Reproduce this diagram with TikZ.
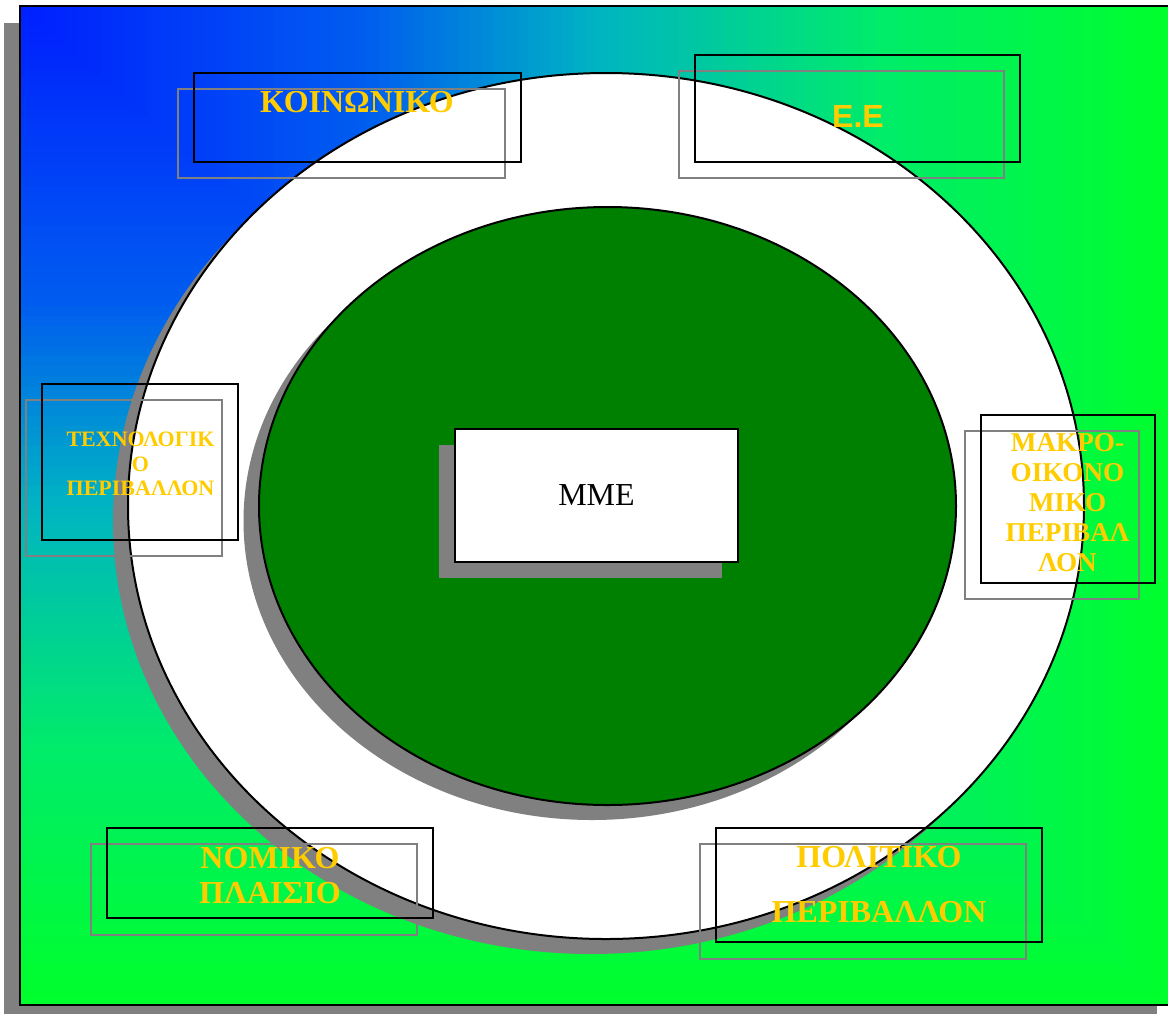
\documentclass[tikz,border=0pt]{standalone}
\usepackage{fontspec}
\setmainfont{Liberation Serif}
\newfontfamily\arialfont{Liberation Sans}
\usetikzlibrary{positioning}
\definecolor{bgblue}{RGB}{0,30,255}
\definecolor{bgmid}{RGB}{0,92,240}
\definecolor{bgteal}{RGB}{0,178,196}
\definecolor{bglime}{RGB}{0,236,105}
\definecolor{bggreen}{RGB}{0,255,45}
\definecolor{ringgreen}{RGB}{0,128,0}
\definecolor{lblyellow}{RGB}{255,204,0}

\begin{document}
\begin{tikzpicture}[x=0.5pt, y=-0.5pt, line width=1pt,
  shadowfill/.style={fill=gray, draw=none},
  frontbox/.style={draw=black},
  backbox/.style={draw=gray},
  lbl/.style={text=lblyellow, font=\bfseries, align=center, inner sep=0pt}]
  \useasboundingbox (0,0) rectangle (1168,1014);
  % background frame, gradient from the top left corner
  \fill[shadowfill] (4,23) rectangle (1157,1014);
  \foreach \i in {100,99,...,1}{
    \pgfmathsetmacro\t{\i/100}
    \ifdim\t pt>0.75pt \pgfmathsetmacro\m{(\t-0.75)/0.25*100}\colorlet{band}{bggreen!\m!bglime}
    \else\ifdim\t pt>0.5pt \pgfmathsetmacro\m{(\t-0.5)/0.25*100}\colorlet{band}{bglime!\m!bgteal}
    \else\ifdim\t pt>0.3pt \pgfmathsetmacro\m{(\t-0.3)/0.2*100}\colorlet{band}{bgteal!\m!bgmid}
    \else \pgfmathsetmacro\m{\t/0.3*100}\colorlet{band}{bgmid!\m!bgblue}\fi\fi\fi
    \pgfmathsetmacro\xe{20+1155*\t}
    \pgfmathsetmacro\ye{6+999*\t}
    \fill[band] (20,6) rectangle (\xe,\ye);
  }
  \draw (20,6) rectangle (1175,1005);
  % outer ring
  \fill[shadowfill] (591,521) ellipse [x radius=478, y radius=433];
  \draw[fill=white] (606,506) ellipse [x radius=478, y radius=433];
  % inner ring
  \fill[shadowfill] (592,521) ellipse [x radius=348.5, y radius=299];
  \draw[fill=ringgreen] (607.5,506) ellipse [x radius=348.5, y radius=299];
  % centre box
  \fill[shadowfill] (439,445) rectangle (722,578);
  \node[draw, fill=white, minimum width=141.5pt, minimum height=66.5pt,
        font=\fontsize{16}{19}\selectfont] (mme) at (596.5,495.5) {ΜΜΕ};
  % label boxes
  \draw[backbox]  (178,89) rectangle (505,178);
  \draw[frontbox] (194,73) rectangle (521,162);
  \draw[backbox]  (679,71) rectangle (1004,178);
  \draw[frontbox] (695,55) rectangle (1020,162);
  \draw[backbox]  (26,400) rectangle (222,556);
  \draw[frontbox] (42,384) rectangle (238,540);
  \draw[backbox]  (965,431) rectangle (1139,599);
  \draw[frontbox] (981,415) rectangle (1155,583);
  \draw[backbox]  (91,844) rectangle (417,935);
  \draw[frontbox] (107,828) rectangle (433,918);
  \draw[backbox]  (700,844) rectangle (1026,959);
  \draw[frontbox] (716,828) rectangle (1042,942);
  % label texts
  \node[lbl, font=\bfseries\fontsize{16}{20}\selectfont] (social) at (357,102.5) {ΚΟΙΝΩΝΙΚΟ};
  \node[lbl, font=\arialfont\bfseries\fontsize{16}{19}\selectfont] (eu) at (858,116) {Ε.Ε};
  \node[lbl, font=\bfseries\fontsize{11}{12.3}\selectfont] (tech) at (140.5,464)
    {ΤΕΧΝΟΛΟΓΙΚ\\Ο\\ΠΕΡΙΒΑΛΛΟΝ};
  \node[lbl, font=\bfseries\fontsize{13.6}{15}\selectfont] (macro) at (1067.5,503)
    {ΜΑΚΡΟ-\\ΟΙΚΟΝΟ\\ΜΙΚΟ\\ΠΕΡΙΒΑΛ\\ΛΟΝ};
  \node[lbl, font=\bfseries\fontsize{16}{17.5}\selectfont] (legal) at (270,875.5)
    {ΝΟΜΙΚΟ\\ΠΛΑΙΣΙΟ};
  \node[lbl, font=\bfseries\fontsize{16}{27.5}\selectfont] (polit) at (879,885)
    {ΠΟΛΙΤΙΚΟ\\ΠΕΡΙΒΑΛΛΟΝ};
\end{tikzpicture}
\end{document}
